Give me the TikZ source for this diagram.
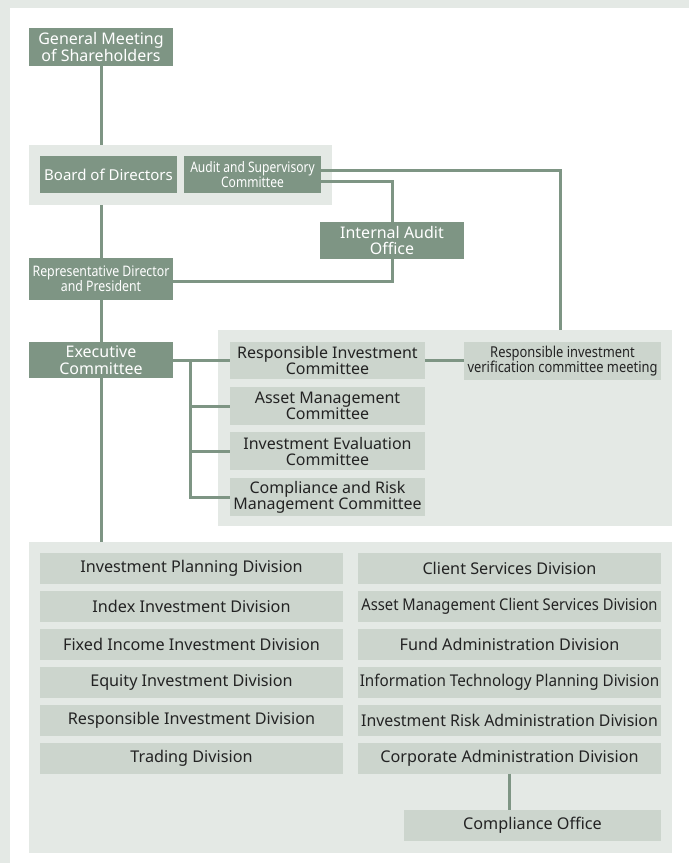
\documentclass[tikz,border=0pt]{standalone}
\usepackage{fontspec}
\usepackage{graphicx}
\setmainfont{Noto Sans}

\definecolor{dkgreen}{RGB}{126,149,132}
\definecolor{boxgrey}{RGB}{204,213,205}
\definecolor{panelgrey}{RGB}{228,233,229}
\definecolor{inktext}{RGB}{35,35,35}

% horizontally squeezed text
\newcommand{\sq}[2]{\scalebox{#1}[1]{#2}}

\tikzset{
  darkbox/.style={fill=dkgreen, text=white, inner sep=0pt, align=center,
    font=\fontsize{16}{16.5}\selectfont},
  lightbox/.style={fill=boxgrey, text=inktext, inner sep=0pt, align=center,
    font=\fontsize{16}{16}\selectfont},
  divbox/.style={lightbox, minimum width=303, minimum height=30.5,
    font=\fontsize{16.2}{16}\selectfont},
  panel/.style={fill=panelgrey, inner sep=0pt},
  dims/.style 2 args={minimum width=#1, minimum height=#2},
  link/.style={draw=dkgreen, line width=3pt, line join=miter},
}

\begin{document}
\begin{tikzpicture}[x=1pt, y=-1pt]
\useasboundingbox (0,0) rectangle (689,863);
\fill[white] (0,0) rectangle (689,863);
% page frame strips
\fill[panelgrey] (0,0) rectangle (689,8);
\fill[panelgrey] (0,0) rectangle (10,863);

% grouping panels
\node[panel, dims={303}{60}]  (boardgrp) at (180.5,175) {};
\node[panel, dims={454}{196}] (cmtgrp)   at (445,428) {};
\node[panel, dims={643}{311}] (divgrp)   at (350.5,697.5) {};

% governance
\node[darkbox, dims={144}{38}] (gm) at (101,47) {General Meeting\\of Shareholders};
\node[darkbox, dims={137}{37}, font=\fontsize{15}{16}\selectfont] (bod) at (108.5,174.5) {Board of Directors};
\node[darkbox, dims={137}{37}, font=\fontsize{14.5}{14}\selectfont] (asc) at (252.5,174.5)
  {\sq{0.83}{Audit and Supervisory}\\\sq{0.83}{Committee}};
\node[darkbox, dims={144}{37}] (iao) at (392,240.5) {Internal Audit\\Office};
\node[darkbox, dims={144}{42}, font=\fontsize{14.5}{15}\selectfont] (rep) at (101,279)
  {\sq{0.85}{Representative Director}\\\sq{0.85}{and President}};
\node[darkbox, dims={144}{36}] (exec) at (101,360) {Executive\\Committee};

% committees
\node[lightbox, dims={195}{37}] (ric) at (327.5,360.5) {Responsible Investment\\Committee};
\node[lightbox, dims={195}{38}] (amc) at (327.5,406) {Asset Management\\Committee};
\node[lightbox, dims={195}{38}] (iec) at (327.5,451) {Investment Evaluation\\Committee};
\node[lightbox, dims={195}{38}] (crm) at (327.5,497) {Compliance and Risk\\Management Committee};
\node[lightbox, dims={197}{38}, font=\fontsize{15}{15.5}\selectfont] (rivc) at (562.5,361)
  {\sq{0.86}{Responsible investment}\\\sq{0.86}{verification committee meeting}};

% divisions, left column
\node[divbox] (d1) at (191.5,568.25) {Investment Planning Division};
\node[divbox] (d2) at (191.5,606.25) {Index Investment Division};
\node[divbox] (d3) at (191.5,644.25) {Fixed Income Investment Division};
\node[divbox] (d4) at (191.5,682.25) {Equity Investment Division};
\node[divbox] (d5) at (191.5,720.25) {Responsible Investment Division};
\node[divbox] (d6) at (191.5,758.25) {Trading Division};
% divisions, right column
\node[divbox] (e1) at (509.5,568.25) {Client Services Division};
\node[divbox] (e2) at (509.5,606.25) {\sq{0.91}{Asset Management Client Services Division}};
\node[divbox] (e3) at (509.5,644.25) {Fund Administration Division};
\node[divbox] (e4) at (509.5,682.25) {\sq{0.94}{Information Technology Planning Division}};
\node[divbox] (e5) at (509.5,720.25) {\sq{0.98}{Investment Risk Administration Division}};
\node[divbox] (e6) at (509.5,758.25) {Corporate Administration Division};
\node[divbox, dims={257}{31}] (co) at (532.5,825.5) {Compliance Office};

% main reporting line
\draw[link] (gm.south) -- (gm.south |- boardgrp.north);
\draw[link] (gm.south |- boardgrp.south) -- (rep.north);
\draw[link] (rep.south) -- (exec.north);
\draw[link] (exec.south) -- (exec.south |- divgrp.north);

% audit lines
\coordinate (ascA) at ([yshift=4.5pt]asc.east);
\coordinate (ascB) at ([yshift=-7pt]asc.east);
\draw[link] (ascA) -| (560,0 |- cmtgrp.north);
\draw[link] (ascB) -| (iao.north);
\coordinate (repR) at ([yshift=-2pt]rep.east);
\draw[link] (iao.south) |- (repR);

% executive committee bracket
\coordinate (exR) at ([yshift=-0.7pt]exec.east);
\draw[link] (exR) -- (exR -| ric.west);
\draw[link] (190,0 |- exR) |- (crm.west);
\draw[link] (190,0 |- amc.west) -- (amc.west);
\draw[link] (190,0 |- iec.west) -- (iec.west);
\draw[link] (ric.east) -- (ric.east -| rivc.west);

% compliance office
\draw[link] (e6.south) -- (e6.south |- co.north);
\end{tikzpicture}
\end{document}
